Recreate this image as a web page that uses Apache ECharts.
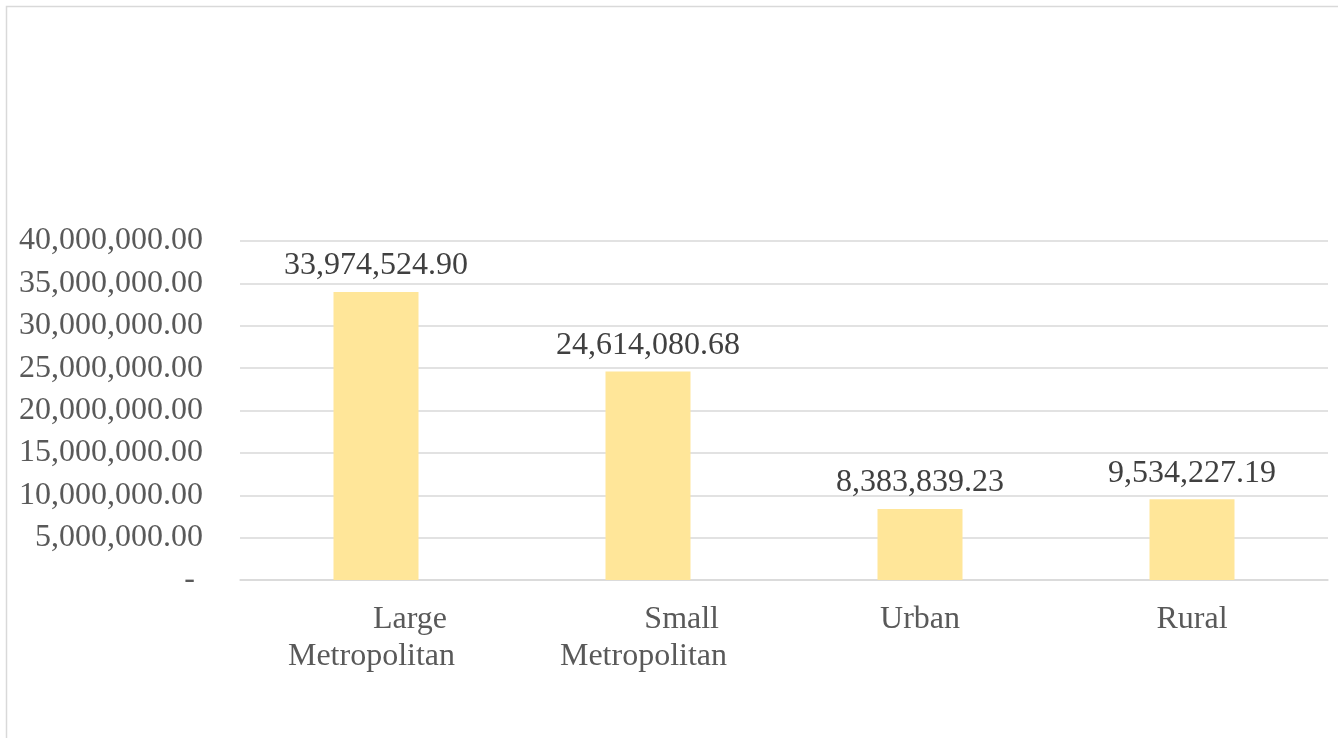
<!DOCTYPE html>
<html>
<head>
<meta charset="utf-8">
<script src="https://cdn.jsdelivr.net/npm/echarts@6/dist/echarts.min.js"></script>
<style>html,body{margin:0;padding:0;background:#fff}#c{width:1338px;height:738px}</style>
</head>
<body>
<div id="c"></div>
<script>
const categories = ['Large Metropolitan', 'Small Metropolitan', 'Urban', 'Rural'];
const values = [33974524.90, 24614080.68, 8383839.23, 9534227.19];
const yTicks = { min: 0, max: 40000000, interval: 5000000 };

function fmt(v) {
  if (v === 0) return '- ';
  return v.toLocaleString('en-US', { minimumFractionDigits: 2, maximumFractionDigits: 2 });
}

const chart = echarts.init(document.getElementById('c'), null, { renderer: 'canvas' });
const font = '"Liberation Serif", "Times New Roman", serif';
chart.setOption({
  animation: false,
  backgroundColor: '#fff',
  graphic: [{
    type: 'rect', shape: { x: 6.5, y: 6.5, width: 1400, height: 800 },
    style: { fill: 'none', stroke: '#D9D9D9', lineWidth: 1.5 }, silent: true
  }],
  grid: { left: 240, right: 10, top: 241, bottom: 158, containLabel: false },
  xAxis: {
    type: 'category',
    data: categories,
    axisLine: { lineStyle: { color: '#D9D9D9', width: 1.5 } },
    axisTick: { show: false },
    axisLabel: {
      interval: 0,
      margin: 21,
      color: '#595959',
      fontFamily: font,
      fontSize: 32,
      lineHeight: 37,
      formatter: function (v) {
        const parts = v.split(' ');
        if (parts.length > 1) return '{r|' + parts[0] + ' }\n{r|' + parts.slice(1).join(' ') + '}';
        return v;
      },
      rich: {
        r: { width: 158, align: 'right', color: '#595959', fontFamily: font, fontSize: 32, lineHeight: 37 }
      }
    }
  },
  yAxis: {
    type: 'value',
    min: yTicks.min, max: yTicks.max, interval: yTicks.interval,
    axisLine: { show: false },
    axisTick: { show: false },
    splitLine: { lineStyle: { color: '#D9D9D9', width: 1.5 } },
    axisLabel: {
      margin: 37,
      color: '#595959',
      fontFamily: font,
      fontSize: 32,
      formatter: fmt
    }
  },
  series: [{
    type: 'bar',
    data: values,
    barWidth: 85,
    itemStyle: { color: '#FFE699' },
    label: {
      show: true,
      position: 'top',
      distance: 10,
      color: '#404040',
      fontFamily: font,
      fontSize: 32,
      formatter: p => fmt(p.value)
    }
  }]
});
</script>
</body>
</html>
